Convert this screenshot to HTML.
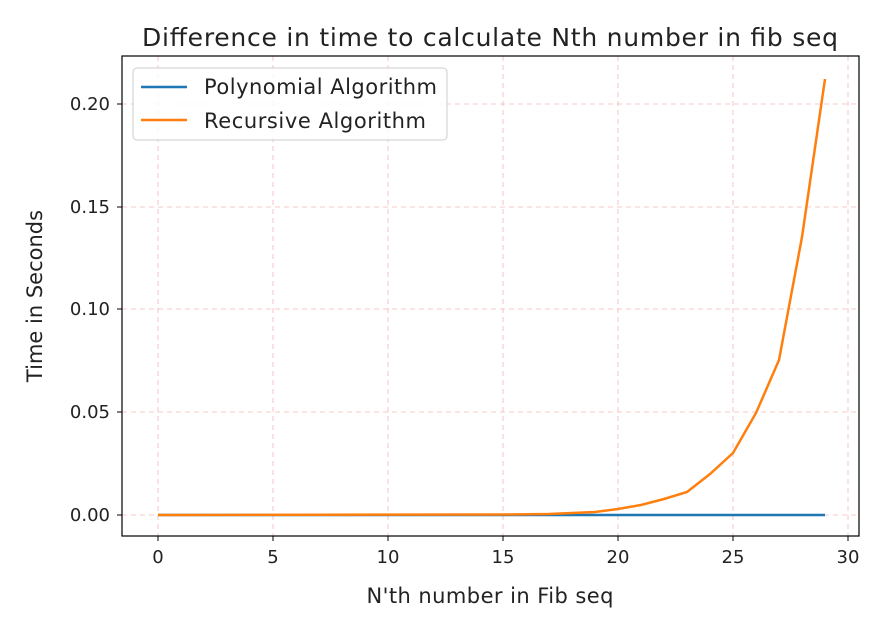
<!DOCTYPE html>
<html><head><style>body{margin:0;background:#fff}</style></head><body>
<svg width="894" height="630" xmlns="http://www.w3.org/2000/svg" font-family="DejaVu Sans, sans-serif">
<rect width="894" height="630" fill="#fff"/>
<g stroke="#f4b6b6" stroke-width="0.8" stroke-dasharray="5,4">
<line x1="158" y1="56" x2="158" y2="536"/><line x1="273" y1="56" x2="273" y2="536"/><line x1="388" y1="56" x2="388" y2="536"/><line x1="503" y1="56" x2="503" y2="536"/><line x1="618" y1="56" x2="618" y2="536"/><line x1="733" y1="56" x2="733" y2="536"/><line x1="848" y1="56" x2="848" y2="536"/>
<line x1="122" y1="515" x2="859" y2="515"/><line x1="122" y1="412" x2="859" y2="412"/><line x1="122" y1="309" x2="859" y2="309"/><line x1="122" y1="207" x2="859" y2="207"/><line x1="122" y1="104" x2="859" y2="104"/>
</g>
<line x1="158" y1="515" x2="825" y2="515" stroke="#1f77b4" stroke-width="2.5"/>
<polyline fill="none" stroke="#ff7f0e" stroke-width="2.5" points="158,515 503,514.5 549,514 572,513 595,512 618,509 641,505 664,499 687,492 710,474 733,453 756,413 779,360 802,237 825,79"/>
<rect x="122" y="56" width="737" height="480" fill="none" stroke="#000" stroke-width="1.2"/>
<g stroke="#000" stroke-width="1">
<line x1="158" y1="536" x2="158" y2="541"/><line x1="273" y1="536" x2="273" y2="541"/><line x1="388" y1="536" x2="388" y2="541"/><line x1="503" y1="536" x2="503" y2="541"/><line x1="618" y1="536" x2="618" y2="541"/><line x1="733" y1="536" x2="733" y2="541"/><line x1="848" y1="536" x2="848" y2="541"/>
<line x1="117" y1="515" x2="122" y2="515"/><line x1="117" y1="412" x2="122" y2="412"/><line x1="117" y1="309" x2="122" y2="309"/><line x1="117" y1="207" x2="122" y2="207"/><line x1="117" y1="104" x2="122" y2="104"/>
</g>
<g font-size="18" fill="#222" text-anchor="middle">
<text x="158" y="563">0</text><text x="273" y="563">5</text><text x="388" y="563">10</text><text x="503" y="563">15</text><text x="618" y="563">20</text><text x="733" y="563">25</text><text x="848" y="563">30</text>
</g>
<g font-size="18" fill="#222" text-anchor="end">
<text x="110" y="521">0.00</text><text x="110" y="418">0.05</text><text x="110" y="315">0.10</text><text x="110" y="213">0.15</text><text x="110" y="110">0.20</text>
</g>
<text x="490" y="603" font-size="21" fill="#222" text-anchor="middle" textLength="247">N'th number in Fib seq</text>
<text transform="translate(42,296) rotate(-90)" font-size="21" fill="#222" text-anchor="middle">Time in Seconds</text>
<text x="490" y="46" font-size="25" fill="#222" text-anchor="middle" textLength="696">Difference in time to calculate Nth number in fib seq</text>
<rect x="133" y="68" width="314" height="72" rx="4" fill="#fff" fill-opacity="0.85" stroke="#ccc"/>
<line x1="141" y1="87" x2="187" y2="87" stroke="#1f77b4" stroke-width="2.5"/>
<line x1="141" y1="120" x2="187" y2="120" stroke="#ff7f0e" stroke-width="2.5"/>
<text x="204" y="94" font-size="21" fill="#222" textLength="233">Polynomial Algorithm</text>
<text x="204" y="128" font-size="21" fill="#222" textLength="222">Recursive Algorithm</text>
</svg>
</body></html>
